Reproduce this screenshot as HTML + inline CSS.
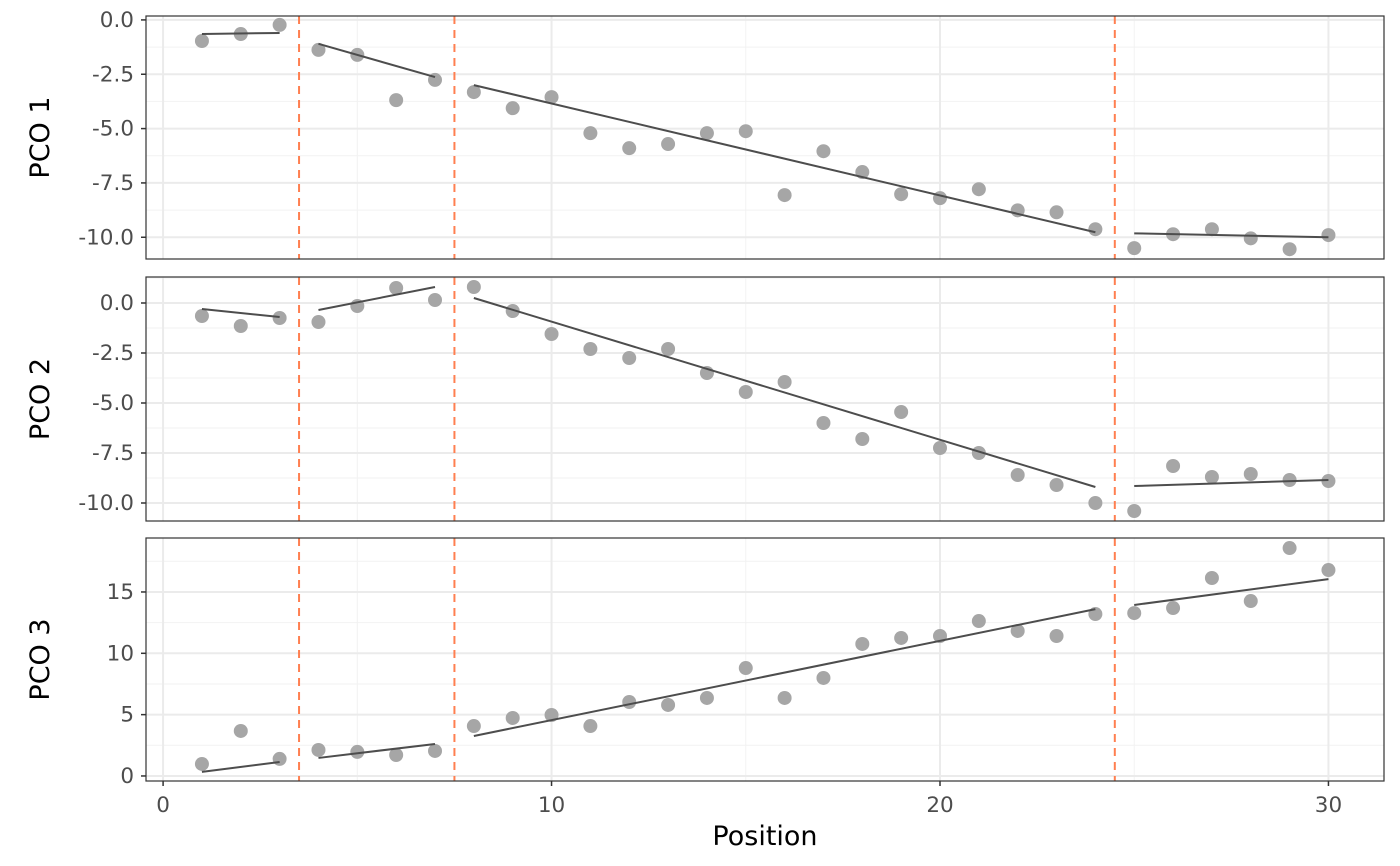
<!DOCTYPE html>
<html><head><meta charset="utf-8"><style>
body{margin:0;background:#fff}
svg{display:block;font-family:"DejaVu Sans","Liberation Sans",sans-serif}
</style></head><body>
<svg id="c" width="1400" height="866"></svg>
<script>
const positions=[1,2,3,4,5,6,7,8,9,10,11,12,13,14,15,16,17,18,19,20,21,22,23,24,25,26,27,28,29,30];
const pco1=[-0.97,-0.65,-0.23,-1.38,-1.61,-3.69,-2.76,-3.32,-4.06,-3.55,-5.21,-5.9,-5.71,-5.21,-5.12,-8.06,-6.04,-7.0,-8.02,-8.2,-7.79,-8.76,-8.85,-9.63,-10.5,-9.86,-9.63,-10.05,-10.55,-9.9];
const pco2=[-0.65,-1.15,-0.75,-0.95,-0.15,0.75,0.15,0.8,-0.4,-1.55,-2.3,-2.75,-2.3,-3.5,-4.45,-3.95,-6.0,-6.8,-5.45,-7.25,-7.5,-8.6,-9.1,-10.0,-10.4,-8.15,-8.7,-8.55,-8.85,-8.9];
const pco3=[0.98,3.67,1.39,2.12,1.96,1.71,2.04,4.07,4.73,4.97,4.07,6.03,5.79,6.36,8.8,6.36,7.99,10.76,11.25,11.41,12.63,11.82,11.41,13.2,13.28,13.69,16.14,14.26,18.58,16.79];
const breakpoints=[3.5,7.5,24.5];
const segStartX=[1,4,8,25];
const segEndX=[3,7,24,30];
const fit1Start=[-0.65,-1.1,-3.0,-9.82], fit1End=[-0.6,-2.63,-9.77,-10.0];
const fit2Start=[-0.3,-0.35,0.25,-9.15], fit2End=[-0.7,0.8,-9.2,-8.85];
const fit3Start=[0.33,1.47,3.26,13.94], fit3End=[1.14,2.61,13.6,16.05];
const xTicks=[0,10,20,30];
const xMinor=[5,15,25];
const panelNames=["PCO 1","PCO 2","PCO 3"];
const yTicks1=[0,-2.5,-5,-7.5,-10], yTicks2=[0,-2.5,-5,-7.5,-10], yTicks3=[0,5,10,15];
const yLabels1=["0.0","-2.5","-5.0","-7.5","-10.0"], yLabels2=["0.0","-2.5","-5.0","-7.5","-10.0"], yLabels3=["0","5","10","15"];

const NS="http://www.w3.org/2000/svg";
const svg=document.getElementById('c');
const L=146,R=1384,xmin=-0.44,xmax=31.43;
const X=v=>L+(v-xmin)/(xmax-xmin)*(R-L);
function el(t,a,p){const e=document.createElementNS(NS,t);for(const k in a)e.setAttribute(k,a[k]);(p||svg).appendChild(e);return e;}
const panels=[
 {top:16,bot:259,lo:-11.0,hi:0.18,data:pco1,ticks:yTicks1,labels:yLabels1,fs:fit1Start,fe:fit1End},
 {top:277,bot:521,lo:-10.9,hi:1.3,data:pco2,ticks:yTicks2,labels:yLabels2,fs:fit2Start,fe:fit2End},
 {top:538,bot:781,lo:-0.41,hi:19.4,data:pco3,ticks:yTicks3,labels:yLabels3,fs:fit3Start,fe:fit3End}];
panels.forEach((p,pi)=>{
 const Y=v=>p.bot-(v-p.lo)/(p.hi-p.lo)*(p.bot-p.top);
 const g=el('g',{});
 
 
 const step=p.ticks[1]-p.ticks[0];
 for(let i=0;i<p.ticks.length+1;i++){const v=p.ticks[0]+step*(i-0.5);const y=Y(v);if(y>p.top&&y<p.bot)el('line',{x1:L,x2:R,y1:y,y2:y,stroke:'#f2f2f2','stroke-width':1},g);}
 xMinor.forEach(v=>el('line',{x1:X(v),x2:X(v),y1:p.top,y2:p.bot,stroke:'#f2f2f2','stroke-width':1},g));
 p.ticks.forEach((v,i)=>{const y=Y(v);el('line',{x1:L,x2:R,y1:y,y2:y,stroke:'#ebebeb','stroke-width':2},g);
  el('line',{x1:L-5,x2:L,y1:y,y2:y,stroke:'#333','stroke-width':1.5},g);
  const t=el('text',{x:L-12,y:y+7,'text-anchor':'end','font-size':21.5,fill:'#4d4d4d'},g);t.textContent=p.labels[i];
  });
 xTicks.forEach(v=>el('line',{x1:X(v),x2:X(v),y1:p.top,y2:p.bot,stroke:'#ebebeb','stroke-width':2},g));
 breakpoints.forEach(b=>{const ln=el('line',{x1:X(b),x2:X(b),y1:p.top,y2:p.bot,stroke:'#ff7f50','stroke-width':2,'stroke-dasharray':'8,6'},g);
  });
 p.data.forEach((v,i)=>{const c=el('circle',{cx:X(positions[i]),cy:Y(v),r:7,fill:'#a6a6a6'},g);
  });
 segStartX.forEach((x0,s)=>{const x1=segEndX[s];
  const ln=el('line',{x1:X(x0),y1:Y(p.fs[s]),x2:X(x1),y2:Y(p.fe[s]),stroke:'#4d4d4d','stroke-width':2},g);
  });
 el('rect',{x:L,y:p.top,width:R-L,height:p.bot-p.top,fill:'none',stroke:'#333','stroke-width':1.2},g);
 const cy=(p.top+p.bot)/2;
 const t=el('text',{x:49,y:cy,'text-anchor':'middle','font-size':27,fill:'#000',transform:`rotate(-90 49 ${cy})`},g);
 t.textContent=panelNames[pi];
});
xTicks.forEach(v=>{el('line',{x1:X(v),x2:X(v),y1:781,y2:786,stroke:'#333','stroke-width':1.5});
 const t=el('text',{x:X(v),y:812,'text-anchor':'middle','font-size':21.5,fill:'#4d4d4d'});t.textContent=v;
 });
const xt=el('text',{x:765,y:845,'text-anchor':'middle','font-size':27,fill:'#000'});xt.textContent='Position';

</script>
</body></html>
